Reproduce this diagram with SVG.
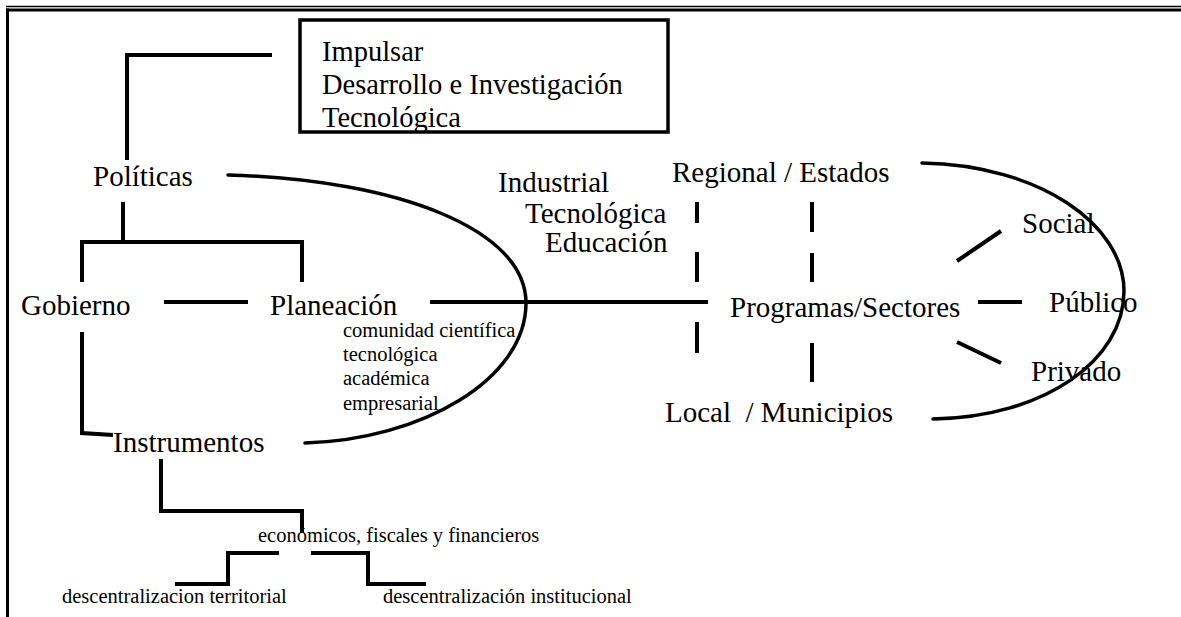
<svg xmlns="http://www.w3.org/2000/svg" width="1181" height="617" viewBox="0 0 1181 617">
<style>
text{font-family:"Liberation Serif","Times New Roman",serif;fill:#000}
.big{font-size:29px}
.box{font-size:28.5px}
.sm{font-size:20.5px}
.ln{stroke:#000;stroke-width:4;fill:none;stroke-linecap:butt}
.arc{stroke:#000;stroke-width:3.5;fill:none;stroke-linecap:round}
.frame{stroke:#000;fill:none}
</style>
<rect x="0" y="0" width="1181" height="617" fill="#fff"/>
<g id="frame">
<line class="frame" x1="6" y1="6.5" x2="1181" y2="6.5" stroke-width="1.5"/>
<line class="frame" x1="6" y1="10" x2="1181" y2="10" stroke-width="3"/>
<line class="frame" x1="7.5" y1="8.5" x2="7.5" y2="617" stroke-width="3"/>
</g>
<g id="connectors">
<polyline class="ln" points="272,55 127,55 127,160"/>
<polyline class="ln" points="123,202 123,242"/>
<polyline class="ln" points="82,282 82,242 302,242 302,282"/>
<line class="ln" x1="164" y1="302" x2="248" y2="302"/>
<line class="ln" x1="430" y1="302" x2="708" y2="302"/>
<polyline class="ln" points="82,332 82,433 113,435"/>
<polyline class="ln" points="161,459 161,511 302,511 302,533"/>
<polyline class="ln" points="279,553 228,553 228,584 175,584"/>
<polyline class="ln" points="311,553 368,553 368,584 426,584"/>
<line class="ln" x1="697" y1="202" x2="697" y2="223"/>
<line class="ln" x1="697" y1="252" x2="697" y2="282"/>
<line class="ln" x1="697" y1="322" x2="697" y2="353"/>
<line class="ln" x1="812" y1="202" x2="812" y2="232"/>
<line class="ln" x1="812" y1="253" x2="812" y2="282"/>
<line class="ln" x1="812" y1="343" x2="812" y2="382"/>
<line class="ln" x1="957" y1="261" x2="1001" y2="231"/>
<line class="ln" x1="978" y1="302" x2="1022" y2="302"/>
<line class="ln" x1="957" y1="342" x2="1001" y2="363"/>
<path class="arc" d="M228,175 C400,180 526,230 526,303 C526,380 420,440 305,443"/>
<path class="arc" d="M922,163 C1040,165 1124,225 1124,291 C1124,360 1045,417 933,419"/>
</g>
<g id="impulsar">
<rect x="300" y="20" width="368" height="112" fill="none" stroke="#000" stroke-width="3.5"/>
<text class="box" x="322" y="61">Impulsar</text>
<text class="box" x="322" y="94">Desarrollo e Investigación</text>
<text class="box" x="322" y="127">Tecnológica</text>
</g>
<g id="politicas"><text class="big" x="93" y="186">Políticas</text></g>
<g id="gobierno"><text class="big" x="21" y="315">Gobierno</text></g>
<g id="planeacion"><text class="big" x="270" y="315">Planeación</text></g>
<g id="comunidad">
<text class="sm" x="343" y="337">comunidad científica</text>
<text class="sm" x="343" y="361">tecnológica</text>
<text class="sm" x="343" y="385">académica</text>
<text class="sm" x="343" y="410">empresarial</text>
</g>
<g id="instrumentos"><text class="big" x="113" y="452">Instrumentos</text></g>
<g id="economicos"><text class="sm" x="258" y="542">económicos, fiscales y financieros</text></g>
<g id="territorial"><text class="sm" x="62" y="603">descentralizacion territorial</text></g>
<g id="institucional"><text class="sm" x="383" y="603">descentralización institucional</text></g>
<g id="sectores-area">
<text class="big" x="498" y="192">Industrial</text>
<text class="big" x="525" y="223">Tecnológica</text>
<text class="big" x="545" y="252">Educación</text>
</g>
<g id="regional"><text class="big" x="672" y="182">Regional / Estados</text></g>
<g id="programas"><text class="big" x="730" y="317">Programas/Sectores</text></g>
<g id="local"><text class="big" x="665" y="422" xml:space="preserve">Local  / Municipios</text></g>
<g id="social"><text class="big" x="1022" y="233">Social</text></g>
<g id="publico"><text class="big" x="1049" y="312">Público</text></g>
<g id="privado"><text class="big" x="1031" y="381">Privado</text></g>
</svg>
